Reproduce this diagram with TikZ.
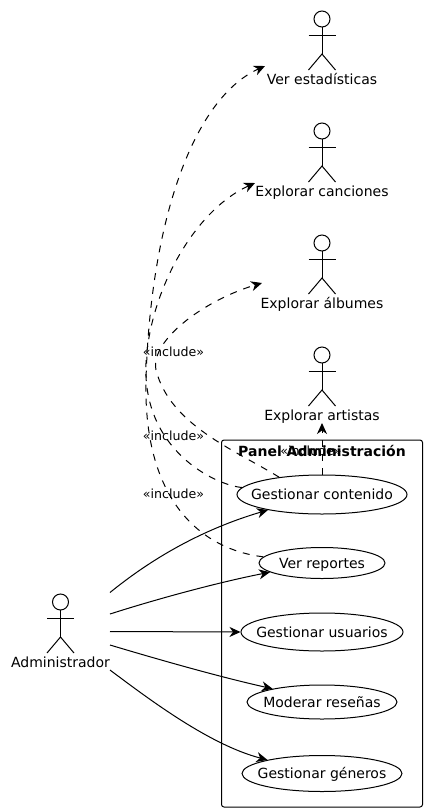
\documentclass[tikz,border=0pt]{standalone}
\usepackage{fontspec}
\setmainfont{DejaVu Sans}
\usetikzlibrary{arrows.meta,shapes.geometric}
\newcommand{\uctext}[1]{\raisebox{-5pt}[0pt][0pt]{\makebox[0pt]{#1}}}
\tikzset{
  line/.style={draw=black,line width=1pt},
  tip/.style={-{Stealth[length=11pt,width=10pt,inset=3.5pt]}},
  assoc/.style={line,tip},
  dep/.style={line,tip,dash pattern=on 7pt off 7pt},
  usecase/.style={ellipse,line,fill=white,inner sep=0pt,font=\fontsize{14}{16}\selectfont},
  actorlabel/.style={inner sep=0pt,anchor=base,font=\fontsize{14}{16}\selectfont},
  stereo/.style={inner sep=0pt,anchor=base,font=\fontsize{12.6}{15}\selectfont},
  actorpic/.pic={
    \draw[line] (0,-8) circle (8);
    \draw[line] (0,0) -- (0,27);
    \draw[line] (-13.5,8) -- (13.5,8);
    \draw[line] (-13.5,43) -- (0,27) -- (13.5,43);
  }
}
\begin{document}
\begin{tikzpicture}[x=1pt,y=-1pt]
\useasboundingbox (0,0) rectangle (427,812);
\fill[white] (0,0) rectangle (427,812);
% actors
\pic at (322,19+8) {actorpic};
\node[actorlabel] (est) at (322,84) {Ver estadísticas};
\pic at (322,131+8) {actorpic};
\node[actorlabel] (can) at (322,196) {Explorar canciones};
\pic at (322,243+8) {actorpic};
\node[actorlabel] (alb) at (322,308) {Explorar álbumes};
\pic at (322,355+8) {actorpic};
\node[actorlabel] (art) at (322,420) {Explorar artistas};
\pic at (60.5,602+8) {actorpic};
\node[actorlabel] (adm) at (60.5,667) {Administrador};
% package
\node[draw=black,line width=1pt,rounded corners=2.5pt,minimum width=201pt,minimum height=367pt,inner sep=0pt] (panel) at (322,623.5) {};
\node[inner sep=0pt,anchor=base,font=\bfseries\fontsize{14}{16}\selectfont] (paneltitle) at (322,456) {Panel Administración};
% use cases
\node[usecase,minimum width=170pt,minimum height=39pt] (gc) at (322,494.5) {\uctext{Gestionar contenido}};
\node[usecase,minimum width=126pt,minimum height=31pt] (vr) at (322,563) {\uctext{Ver reportes}};
\node[usecase,minimum width=162pt,minimum height=38pt] (gu) at (322,632) {\uctext{Gestionar usuarios}};
\node[usecase,minimum width=150pt,minimum height=34pt] (mr) at (322,702) {\uctext{Moderar reseñas}};
\node[usecase,minimum width=160pt,minimum height=36pt] (gg) at (322,773.5) {\uctext{Gestionar géneros}};
% free ends
\coordinate (s1) at (110,592.5);
\coordinate (s2) at (110,614);
\coordinate (s3) at (110,631.5);
\coordinate (s4) at (110,645);
\coordinate (s5) at (110,670);
\coordinate (tEst) at (265,66);
\coordinate (tCan) at (255,183);
\coordinate (tAlb) at (262,283);
\coordinate (tArt) at (322,423);
% associations
\draw[assoc] (s1) .. controls (150,560) and (200,530) .. (gc.196);
\draw[assoc] (s2) .. controls (160,598) and (220,582) .. (vr.190);
\draw[assoc] (s3) -- (gu.west);
\draw[assoc] (s4) .. controls (160,660) and (220,677) .. (mr.165);
\draw[assoc] (s5) .. controls (150,700) and (210,745) .. (gg.166);
% includes
\draw[dep] (gc.north) -- (tArt);
\draw[dep] (gc.158) .. controls (235,450) and (170,425) .. (156,370) .. controls (150,340) and (205,300) .. (tAlb);
\draw[dep] (gc.175) .. controls (215,485) and (142,450) .. (146,363) .. controls (150,290) and (195,210) .. (tCan);
\draw[dep] (vr.174) .. controls (205,550) and (143,505) .. (146,380) .. controls (150,230) and (190,100) .. (tEst);
% stereotypes
\node[stereo] (i1) at (311,455) {«include»};
\node[stereo] (i2) at (173.5,356) {«include»};
\node[stereo] (i3) at (173.5,440.7) {«include»};
\node[stereo] (i4) at (173.5,498) {«include»};
\end{tikzpicture}
\end{document}
